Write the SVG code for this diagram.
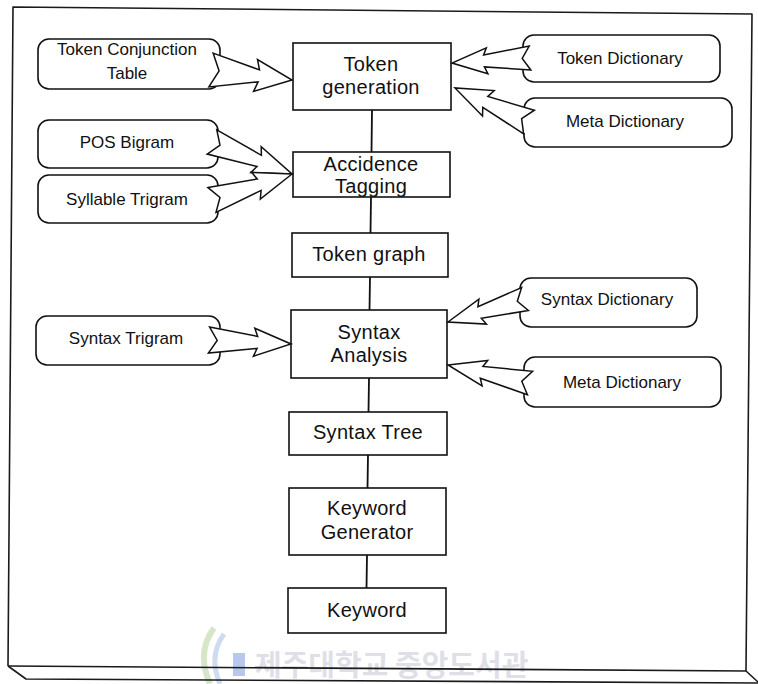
<svg xmlns="http://www.w3.org/2000/svg" width="758" height="684" viewBox="0 0 758 684">
  <style>
    .frame { fill: none; stroke: #1a1a1a; stroke-width: 1.6; stroke-linejoin: round; }
    .proc { fill: #ffffff; stroke: #111111; stroke-width: 1.6; }
    .res { fill: #ffffff; stroke: #111111; stroke-width: 1.6; }
    .link { fill: none; stroke: #111111; stroke-width: 1.8; }
    .bolt { fill: #ffffff; stroke: #111111; stroke-width: 1.5; stroke-linejoin: miter; }
    .gap { stroke: #ffffff; stroke-width: 3.2; }
    .big { font-family: "Liberation Sans", Arial, sans-serif; font-size: 20px; fill: #111111; text-anchor: middle; letter-spacing: 0.3px; }
    .small { font-family: "Liberation Sans", Arial, sans-serif; font-size: 17px; fill: #111111; text-anchor: middle; }
    .mark { font-family: "Noto Sans CJK KR", "Noto Sans", sans-serif; font-size: 29px; font-weight: bold; fill: #dfdfe8; }
  </style>

  <!-- outer slab frame -->
  <g id="frame">
    <polygon points="13,7 752,14 746,671 8,666" fill="#ffffff" stroke="none"/>
    <polyline class="frame" points="8,666 13,7 752,14 746,671"/>
  </g>

  <!-- faint library stamp along the bottom edge -->
  <g id="stamp">
    <path d="M 214 628 Q 196 652 210 684" fill="none" stroke="#d7e6c8" stroke-width="6"/>
    <path d="M 224 634 Q 208 656 220 684" fill="none" stroke="#cfdcf0" stroke-width="5"/>
    <rect x="233" y="653" width="12" height="23" fill="#b8c8ec"/>
    <text class="mark" x="255" y="676">제주대학교 중앙도서관</text>
  </g>

  <g id="slab">
    <polyline class="frame" points="8,666 746,671 758,682"/>
    <polyline class="frame" points="8,666 26,679 758,683"/>
  </g>

  <!-- processing chain -->
  <g id="token-generation">
    <rect class="proc" x="293" y="43" width="158" height="67"/>
    <text class="big" x="371" y="70.5">Token</text>
    <text class="big" x="371" y="93.5">generation</text>
  </g>
  <g id="accidence-tagging">
    <rect class="proc" x="293" y="152" width="157" height="45"/>
    <text class="big" x="371" y="170.5">Accidence</text>
    <text class="big" x="371" y="193">Tagging</text>
  </g>
  <g id="token-graph">
    <rect class="proc" x="292" y="233" width="156" height="44"/>
    <text class="big" x="369" y="261">Token graph</text>
  </g>
  <g id="syntax-analysis">
    <rect class="proc" x="291" y="310" width="156" height="68"/>
    <text class="big" x="369" y="339">Syntax</text>
    <text class="big" x="369" y="361.5">Analysis</text>
  </g>
  <g id="syntax-tree">
    <rect class="proc" x="289" y="412" width="158" height="43"/>
    <text class="big" x="368" y="438.5">Syntax Tree</text>
  </g>
  <g id="keyword-generator">
    <rect class="proc" x="289" y="488" width="157" height="67"/>
    <text class="big" x="367" y="515">Keyword</text>
    <text class="big" x="367" y="538.5">Generator</text>
  </g>
  <g id="keyword">
    <rect class="proc" x="288" y="588" width="158" height="45"/>
    <text class="big" x="367" y="617">Keyword</text>
  </g>

  <!-- knowledge sources, left side -->
  <g id="token-conjunction-table">
    <rect class="res" x="38" y="39" width="182" height="50" rx="11"/>
    <text class="small" x="127" y="55">Token Conjunction</text>
    <text class="small" x="127" y="79">Table</text>
  </g>
  <g id="pos-bigram">
    <rect class="res" x="38" y="120" width="180" height="48" rx="11"/>
    <text class="small" x="127" y="148">POS Bigram</text>
  </g>
  <g id="syllable-trigram">
    <rect class="res" x="38" y="175" width="180" height="48" rx="11"/>
    <text class="small" x="127" y="205">Syllable Trigram</text>
  </g>
  <g id="syntax-trigram">
    <rect class="res" x="36" y="316" width="184" height="49" rx="11"/>
    <text class="small" x="126" y="344">Syntax Trigram</text>
  </g>

  <!-- knowledge sources, right side -->
  <g id="token-dictionary">
    <rect class="res" x="523" y="35" width="197" height="47" rx="11"/>
    <text class="small" x="620" y="63.5">Token Dictionary</text>
  </g>
  <g id="meta-dictionary-1">
    <rect class="res" x="524" y="98" width="208" height="49" rx="11"/>
    <text class="small" x="625" y="127">Meta Dictionary</text>
  </g>
  <g id="syntax-dictionary">
    <rect class="res" x="520" y="278" width="177" height="49" rx="11"/>
    <text class="small" x="607" y="305">Syntax Dictionary</text>
  </g>
  <g id="meta-dictionary-2">
    <rect class="res" x="524" y="357" width="197" height="50" rx="11"/>
    <text class="small" x="622" y="388">Meta Dictionary</text>
  </g>

  <!-- connectors -->
  <g id="connectors">
    <!-- vertical chain links -->
    <line class="link" x1="372" y1="110" x2="371.5" y2="152"/>
    <line class="link" x1="371" y1="197" x2="370.5" y2="233"/>
    <line class="link" x1="370" y1="277" x2="369.5" y2="310"/>
    <line class="link" x1="369" y1="378" x2="368.5" y2="412"/>
    <line class="link" x1="368" y1="455" x2="367.5" y2="488"/>
    <line class="link" x1="367" y1="555" x2="366.5" y2="588"/>

    <!-- openings in the source boxes where the bolt tails join -->
    <line class="gap" x1="220" y1="55" x2="220" y2="86"/>
    <line class="gap" x1="218" y1="131.5" x2="218" y2="156"/>
    <line class="gap" x1="218" y1="186.5" x2="218" y2="211"/>
    <line class="gap" x1="220" y1="329.5" x2="220" y2="351.5"/>
    <line class="gap" x1="523" y1="48" x2="523" y2="69"/>
    <line class="gap" x1="524" y1="108" x2="524" y2="133"/>
    <line class="gap" x1="520" y1="289" x2="520" y2="311"/>
    <line class="gap" x1="524" y1="371.5" x2="524" y2="393"/>

    <!-- lightning-bolt feed arrows -->
    <polygon class="bolt" points="213.1,53.1 259.5,69.9 257.5,59.6 292,80 253.6,91.4 258.1,81.9 208.9,86.9 219.1,71"/>
    <polygon class="bolt" points="216.8,129.9 261.4,155.3 261.2,146.6 292,174 250.8,172.6 257,166.5 207.2,154.1 220,145.2"/>
    <polygon class="bolt" points="208,187.6 257.3,179 251.7,172.4 292,174 260.3,199 261.1,190.4 216,212.4 220,197.4"/>
    <polygon class="bolt" points="209.6,327 257.7,336.4 254.8,328.2 291,344 253.4,356.2 257.1,348.4 208.4,353 217.2,340.4"/>
    <polygon class="bolt" points="530.8,70 484.4,66.9 487.9,73.7 452,63 486.3,47.8 483.6,55 529.2,46 522.2,58.5"/>
    <polygon class="bolt" points="523.6,133.8 482.8,107.4 482.5,116 455,88 494.2,90.6 487.8,96.5 534.4,110.2 521.6,118.6"/>
    <polygon class="bolt" points="528.4,310.5 481.3,318.3 486.4,324.1 448,322 478.9,299.2 477.9,306.8 521.6,287.5 517.3,301.3"/>
    <polygon class="bolt" points="527.4,394.7 480.3,378.2 482.1,385.8 448,365 487.7,360.4 482.9,366.5 532.6,371.3 521.8,381.2"/>
  </g>
</svg>
